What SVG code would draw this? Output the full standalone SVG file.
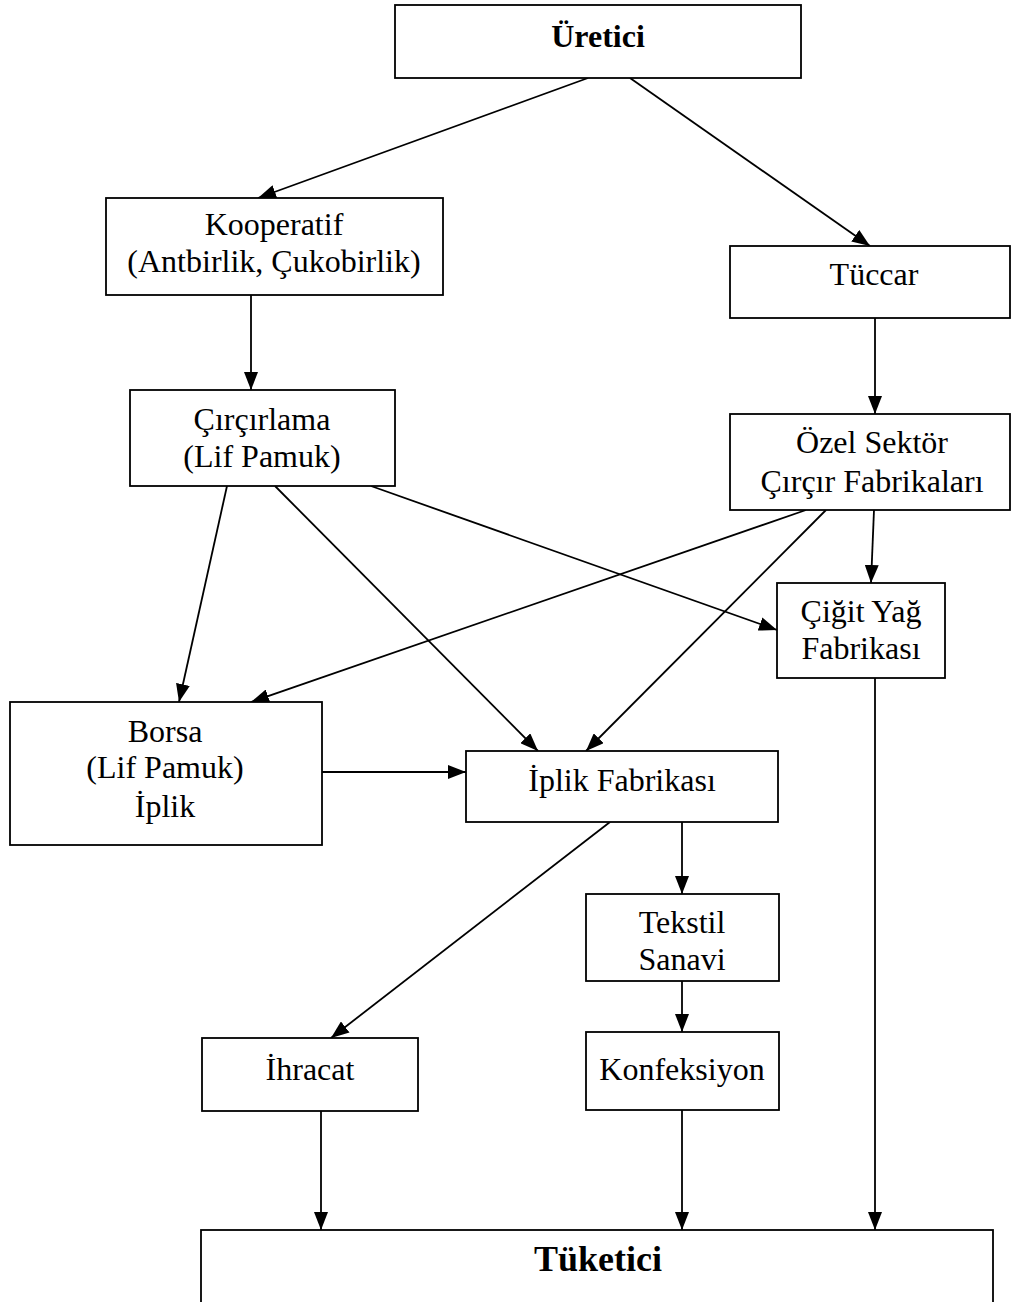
<svg xmlns="http://www.w3.org/2000/svg" width="1011" height="1302" viewBox="0 0 1011 1302">
  <style>
    .box { fill: #ffffff; stroke: #000000; stroke-width: 1.8; }
    .lbl { font-family: "Liberation Serif", "Times New Roman", serif; font-size: 32px; fill: #000000; text-anchor: middle; }
    .bold { font-weight: bold; }
    .edge { stroke: #000000; stroke-width: 1.8; fill: none; marker-end: url(#arrow); }
  </style>
  <defs>
    <marker id="arrow" viewBox="0 0 18 14" refX="18" refY="7" markerWidth="18" markerHeight="14" markerUnits="userSpaceOnUse" orient="auto">
      <path d="M0,0 L18,7 L0,14 Z" fill="#000000"/>
    </marker>
  </defs>
  <rect width="1011" height="1302" fill="#ffffff"/>

  <g id="connectors">
    <line class="edge" x1="588" y1="78" x2="258" y2="198"/>
    <line class="edge" x1="630" y1="78" x2="870" y2="246"/>
    <line class="edge" x1="251" y1="295" x2="251" y2="390"/>
    <line class="edge" x1="875" y1="318" x2="875" y2="414"/>
    <line class="edge" x1="227" y1="486" x2="179" y2="702"/>
    <line class="edge" x1="275" y1="486" x2="538" y2="751"/>
    <line class="edge" x1="371" y1="486" x2="777" y2="630"/>
    <line class="edge" x1="806" y1="510" x2="251" y2="702"/>
    <line class="edge" x1="826" y1="510" x2="586" y2="751"/>
    <line class="edge" x1="874" y1="510" x2="871" y2="583"/>
    <line class="edge" x1="322" y1="772" x2="466" y2="772"/>
    <line class="edge" x1="610" y1="822" x2="331" y2="1038"/>
    <line class="edge" x1="682" y1="822" x2="682" y2="894"/>
    <line class="edge" x1="682" y1="981" x2="682" y2="1032"/>
    <line class="edge" x1="321" y1="1111" x2="321" y2="1230"/>
    <line class="edge" x1="682" y1="1110" x2="682" y2="1230"/>
    <line class="edge" x1="875" y1="678" x2="875" y2="1230"/>
  </g>

  <g id="uretici">
    <rect class="box" x="395" y="5" width="406" height="73"/>
    <text class="lbl bold" x="598" y="47">Üretici</text>
  </g>
  <g id="kooperatif">
    <rect class="box" x="106" y="198" width="337" height="97"/>
    <text class="lbl" x="274" y="235">Kooperatif</text>
    <text class="lbl" x="274" y="272">(Antbirlik, Çukobirlik)</text>
  </g>
  <g id="tuccar">
    <rect class="box" x="730" y="246" width="280" height="72"/>
    <text class="lbl" x="874" y="285">Tüccar</text>
  </g>
  <g id="circirlama">
    <rect class="box" x="130" y="390" width="265" height="96"/>
    <text class="lbl" x="262" y="430">Çırçırlama</text>
    <text class="lbl" x="262" y="467">(Lif Pamuk)</text>
  </g>
  <g id="ozel-sektor">
    <rect class="box" x="730" y="414" width="280" height="96"/>
    <text class="lbl" x="872" y="453">Özel Sektör</text>
    <text class="lbl" x="872" y="492">Çırçır Fabrikaları</text>
  </g>
  <g id="cigit-yag">
    <rect class="box" x="777" y="583" width="168" height="95"/>
    <text class="lbl" x="861" y="622">Çiğit Yağ</text>
    <text class="lbl" x="861" y="659">Fabrikası</text>
  </g>
  <g id="borsa">
    <rect class="box" x="10" y="702" width="312" height="143"/>
    <text class="lbl" x="165" y="742">Borsa</text>
    <text class="lbl" x="165" y="778">(Lif Pamuk)</text>
    <text class="lbl" x="165" y="817">İplik</text>
  </g>
  <g id="iplik-fabrikasi">
    <rect class="box" x="466" y="751" width="312" height="71"/>
    <text class="lbl" x="622" y="791">İplik Fabrikası</text>
  </g>
  <g id="tekstil">
    <rect class="box" x="586" y="894" width="193" height="87"/>
    <text class="lbl" x="682" y="933">Tekstil</text>
    <text class="lbl" x="682" y="970">Sanavi</text>
  </g>
  <g id="ihracat">
    <rect class="box" x="202" y="1038" width="216" height="73"/>
    <text class="lbl" x="310" y="1080">İhracat</text>
  </g>
  <g id="konfeksiyon">
    <rect class="box" x="586" y="1032" width="193" height="78"/>
    <text class="lbl" x="682" y="1080">Konfeksiyon</text>
  </g>
  <g id="tuketici">
    <rect class="box" x="201" y="1230" width="792" height="100"/>
    <text class="lbl bold" x="598" y="1271" style="font-size:36px">Tüketici</text>
  </g>
</svg>
